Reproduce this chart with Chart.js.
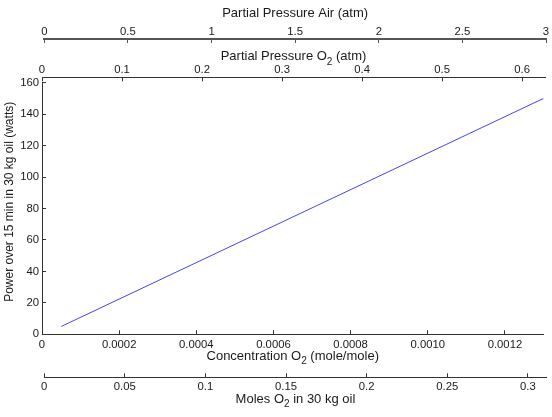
<!DOCTYPE html>
<html><head><meta charset="utf-8">
<script src="https://cdn.jsdelivr.net/npm/chart.js@4/dist/chart.umd.min.js"></script>
<style>html,body{margin:0;padding:0;background:#fff;}#wrap{width:552px;height:417px;position:relative;}</style>
</head><body><div id="wrap"><canvas id="c" width="552" height="417"></canvas></div>
<script>
// ---- data ----
const concentration = [0.00005, 0.0013];          // mole/mole
const power = [5, 150];                          // watts
const concTicks = [0, 0.0002, 0.0004, 0.0006, 0.0008, 0.0010, 0.0012];
const concLabels = ['0', '0.0002', '0.0004', '0.0006', '0.0008', '0.0010', '0.0012'];
const powerTicks = [0, 20, 40, 60, 80, 100, 120, 140, 160];
const powerLabels = ['0', '20', '40', '60', '80', '100', '120', '140', '160'];
const airTicks = [0, 0.5, 1, 1.5, 2, 2.5, 3];
const airLabels = ['0', '0.5', '1', '1.5', '2', '2.5', '3'];
const o2Ticks = [0, 0.1, 0.2, 0.3, 0.4, 0.5, 0.6];
const o2Labels = ['0', '0.1', '0.2', '0.3', '0.4', '0.5', '0.6'];
const molesTicks = [0, 0.05, 0.1, 0.15, 0.2, 0.25, 0.3];
const molesLabels = ['0', '0.05', '0.1', '0.15', '0.2', '0.25', '0.3'];
const concRange = [0, 0.0013];
const powerRange = [0, 160];
const airRange = [0, 3];
const o2Range = [0, 0.6285];
const molesRange = [0, 0.3117];
// axis titles: [text, isSubscript] segments
const concTitle = [['Concentration O', false], ['2', true], [' (mole/mole)', false]];
const molesTitle = [['Moles O', false], ['2', true], [' in 30 kg oil', false]];
const o2Title = [['Partial Pressure O', false], ['2', true], [' (atm)', false]];

// ---- styling / layout ----
const FONT = '"Liberation Sans", Arial, Helvetica, sans-serif';
const tickFont = {family: FONT, size: 11.3};
const titleFont = {family: FONT, size: 13};
const AX = '#333';
const TXT = '#1a1a1a';

const fixTicks = values => s => { s.ticks = values.map(v => ({value: v})); };

function hAxis(o) {
  return {
    type: 'linear', axis: 'x', position: o.position, weight: o.weight,
    min: o.range[0], max: o.range[1],
    afterBuildTicks: fixTicks(o.ticks),
    afterFit: s => { s.height = o.height; },
    ticks: {font: tickFont, color: TXT, padding: o.tickPad, autoSkip: false, maxRotation: 0, minRotation: 0,
            callback: (v, i) => o.labels[i]},
    grid: {drawOnChartArea: false, tickLength: -4, color: o.color || AX, lineWidth: 1, tickWidth: 1},
    border: {display: true, color: o.color || AX, width: o.bw || 1},
    title: {display: !!o.title, text: o.title || '', font: titleFont, color: TXT,
            padding: {top: o.titleTop || 0, bottom: o.titleBottom || 0}}
  };
}

const boxAdjust = {
  air: {left: 44.3, right: 546},
  o2: {left: 42, right: 545, dy: -5.4},
  moles: {left: 44.2, right: 546.7}
};

const axisShift = {
  id: 'axisShift',
  afterLayout(chart) {
    for (const id in boxAdjust) {
      const s = chart.scales[id];
      const a = boxAdjust[id];
      s.left = a.left; s.right = a.right; s.width = a.right - a.left;
      if (a.dy) { s.top += a.dy; s.bottom += a.dy; }
      s.configure();
    }
  }
};

// titles with a real subscript, centred on their scale
const subTitles = [
  {id: 'x', parts: concTitle, from: 'bottom', off: 21.3},
  {id: 'moles', parts: molesTitle, from: 'bottom', off: 17.8},
  {id: 'o2', parts: o2Title, from: 'top', off: 23.1}
];
const subTitlePlugin = {
  id: 'subTitles',
  afterDraw(chart) {
    const ctx = chart.ctx;
    ctx.save();
    ctx.fillStyle = TXT;
    ctx.textBaseline = 'middle';
    ctx.textAlign = 'left';
    const big = '13px ' + FONT, small = '10px ' + FONT;
    for (const t of subTitles) {
      const s = chart.scales[t.id];
      const y = t.from === 'top' ? s.top + t.off : s.bottom - t.off;
      let w = 0;
      for (const [txt, sub] of t.parts) { ctx.font = sub ? small : big; w += ctx.measureText(txt).width; }
      let x = (s.left + s.right) / 2 - w / 2;
      for (const [txt, sub] of t.parts) {
        ctx.font = sub ? small : big;
        ctx.fillText(txt, x, sub ? y + 5.5 : y);
        x += ctx.measureText(txt).width;
      }
    }
    ctx.restore();
  }
};

new Chart(document.getElementById('c'), {
  type: 'scatter',
  data: {
    datasets: [{
      data: concentration.map((x, i) => ({x: x, y: power[i]})),
      showLine: true, borderColor: 'rgb(70,70,235)', borderWidth: 1,
      pointRadius: 0, pointHoverRadius: 0, fill: false,
      xAxisID: 'x', yAxisID: 'y'
    }]
  },
  options: {
    responsive: false, animation: false, devicePixelRatio: 1,
    layout: {padding: {left: 0, right: 8.5, top: 0, bottom: 0}},
    plugins: {legend: {display: false}, tooltip: {enabled: false}},
    scales: {
      x: hAxis({position: 'bottom', weight: 0, range: concRange, ticks: concTicks, labels: concLabels,
                height: 43, tickPad: 7.7}),
      moles: hAxis({position: 'bottom', weight: 1, range: molesRange, ticks: molesTicks, labels: molesLabels,
                height: 39.7, tickPad: 7}),
      o2: hAxis({position: 'top', weight: 0, range: o2Range, ticks: o2Ticks, labels: o2Labels,
                height: 43.7, tickPad: 4.2}),
      air: hAxis({position: 'top', weight: 1, range: airRange, ticks: airTicks, labels: airLabels,
                height: 39, tickPad: 4.5, title: 'Partial Pressure Air (atm)', titleTop: 5.7, color: '#555', bw: 2}),
      y: {
        type: 'linear', axis: 'y', position: 'left', min: powerRange[0], max: powerRange[1],
        afterBuildTicks: fixTicks(powerTicks),
        afterFit: s => { s.width = 42; },
        ticks: {font: tickFont, color: TXT, padding: 7, callback: (v, i) => powerLabels[i]},
        grid: {drawOnChartArea: false, tickLength: -4, color: AX, tickWidth: 1},
        border: {display: true, color: AX, width: 1},
        title: {display: true, text: '    Power over 15 min in 30 kg oil (watts)', font: {family: FONT, size: 12},
                color: TXT, padding: {top: 2, bottom: 0}}
      }
    }
  },
  plugins: [axisShift, subTitlePlugin]
});
</script>
</body></html>
